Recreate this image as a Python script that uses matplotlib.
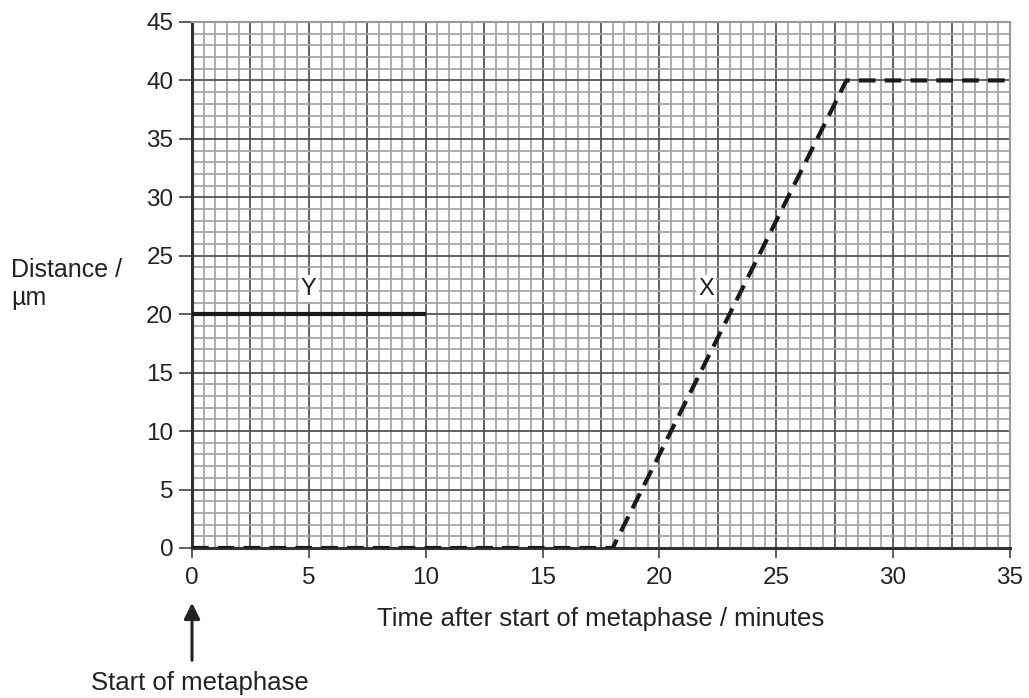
import numpy as np
import matplotlib.pyplot as plt

# line data
y_time = [0, 10]
y_dist = [20, 20]
x_time = [0, 18, 28, 35]
x_dist = [0, 0, 40, 40]

x_ticks = [0, 5, 10, 15, 20, 25, 30, 35]
y_ticks = [0, 5, 10, 15, 20, 25, 30, 35, 40, 45]

plt.rcParams['font.family'] = ['Liberation Sans', 'DejaVu Sans']

fig = plt.figure(figsize=(10.29, 6.98), dpi=100)
ax = fig.add_axes([0.1866, 0.2149, 0.7949, 0.7536])
ax.set_xlim(0, 35)
ax.set_ylim(0, 45)

# graph paper grid
for v in np.arange(0, 35.01, 0.5):
    major = abs(v / 2.5 - round(v / 2.5)) < 1e-6
    ax.axvline(v, color='#555555' if major else '#a6a6a6', lw=1.3, zorder=1)
for v in np.arange(0, 45.01, 1):
    major = v % 5 == 0
    ax.axhline(v, color='#555555' if major else '#a6a6a6', lw=1.3, zorder=1)

ax.plot(y_time, y_dist, color='#1a1a1a', lw=3, solid_capstyle='butt', zorder=3)
ax.plot(x_time, x_dist, color='#1a1a1a', lw=3, dashes=(4, 2.2), zorder=3)

ax.text(5, 22.2, 'Y', fontsize=17, ha='center', va='center', zorder=4,
        color='#222222', bbox=dict(facecolor='white', edgecolor='none', pad=1.5))
ax.text(22, 22.2, 'X', fontsize=17, ha='center', va='center', zorder=4,
        color='#222222', bbox=dict(facecolor='white', edgecolor='none', pad=1.5))

for s in ['left', 'bottom']:
    ax.spines[s].set_linewidth(2.2)
    ax.spines[s].set_color('#333333')
for s in ['top', 'right']:
    ax.spines[s].set_linewidth(1.5)
    ax.spines[s].set_color('#999999')

ax.set_xticks(x_ticks)
ax.set_yticks(y_ticks)
ax.tick_params(axis='both', labelsize=17.5, color='#444444', width=1.2,
               labelcolor='#222222')
ax.tick_params(axis='x', length=7.5, pad=6)
ax.tick_params(axis='y', length=9.5, pad=4)

ax.set_xlabel('Time after start of metaphase / minutes', fontsize=18.5,
              color='#222222', labelpad=13)
fig.text(0.011, 0.593, 'Distance /\nµm', fontsize=18, color='#222222',
         ha='left', va='center', linespacing=1.2)

ax.annotate('', xy=(0, -4.45), xytext=(0, -9.85), xycoords='data',
            annotation_clip=False,
            arrowprops=dict(arrowstyle='-|>', color='#222222', lw=2.2,
                            mutation_scale=24))
fig.text(0.194, 0.022, 'Start of metaphase', fontsize=18.5, color='#222222',
         ha='center', va='center')

fig.savefig('out.png', dpi=100)
